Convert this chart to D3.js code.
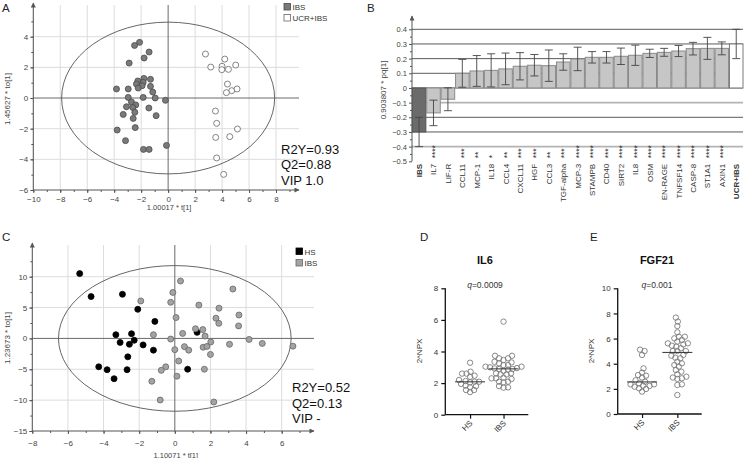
<!DOCTYPE html>
<html><head><meta charset="utf-8">
<script src="https://cdn.jsdelivr.net/npm/d3@7"></script>
<style>body{margin:0;background:#fff} svg{display:block;font-family:"Liberation Sans",Arial,sans-serif}</style>
</head><body><svg id="c" width="745" height="458"></svg>
<script>
// ---------- DATA ----------
// Panel A (OPLS-DA scores, IBS vs UCR+IBS): [t[1], to[1]]
const aIBS = [[-2.12,3.63],[-2.49,3.43],[-1.41,3.0],[-1.78,2.61],[-2.89,2.28],[-1.80,1.28],[-1.31,1.22],[-2.25,1.11],[-2.35,0.91],[-1.85,1.02],[-1.93,0.80],[-1.31,0.76],[-2.22,0.65],[-3.83,0.59],[-2.96,0.59],[-1.14,0.39],[-2.96,0.04],[-1.85,0.04],[-0.96,0.0],[-0.20,-0.15],[-2.72,-0.26],[-2.40,-0.45],[-3.09,-0.57],[-2.62,-0.62],[-1.43,-0.65],[-2.47,-0.93],[-3.33,-1.07],[-0.89,-1.15],[-2.59,-1.33],[-2.44,-1.93],[-3.78,-2.09],[-3.16,-2.78],[-1.83,-3.35],[-1.41,-3.35],[-0.12,-3.09]];
const aUCR = [[2.77,2.87],[3.16,2.02],[4.20,2.54],[4.0,2.07],[3.98,1.85],[4.47,1.87],[5.01,2.15],[4.40,0.91],[4.72,0.48],[4.32,0.35],[5.11,0.59],[3.51,-0.85],[3.60,-1.65],[5.14,-2.02],[3.53,-2.57],[4.57,-2.52],[3.60,-3.91],[4.12,-4.98]];
const aStats = ["R2Y=0.93","Q2=0.88","VIP 1.0"];
const aLegend = ["IBS","UCR+IBS"];

// Panel B (loadings)
const bCats = ["IBS","IL7","LIF-R","CCL11","MCP-1","IL18","CCL4","CXCL11","HGF","CCL3","TGF-alpha","MCP-3","STAMPB","CD40","SIRT2","IL8","OSM","EN-RAGE","TNFSF14","CASP-8","ST1A1","AXIN1","UCR+IBS"];
const bVals = [-0.30,-0.17,-0.077,0.10,0.116,0.12,0.13,0.148,0.155,0.152,0.177,0.198,0.209,0.209,0.216,0.223,0.236,0.243,0.252,0.268,0.27,0.27,0.30];
const bErr  = [0.10,0.087,0.078,0.095,0.105,0.113,0.108,0.093,0.073,0.107,0.056,0.08,0.039,0.039,0.056,0.069,0.028,0.027,0.038,0.043,0.075,0.044,0.10];
const bStars = ["","****","","***","**","*","**","***","***","**","***","****","****","***","****","****","****","****","****","****","****","****",""];
const bTicks = [0.4,0.3,0.2,0.1,0,-0.1,-0.2,-0.3,-0.4,-0.5];

// Panel C (OPLS-DA scores, HS vs IBS)
const cHS = [[-5.34,10.5],[-4.70,6.78],[-2.94,7.15],[-2.08,4.72],[-1.12,2.76],[-3.31,0.6],[-2.43,0.76],[-3.07,-0.65],[-2.28,-0.30],[-2.55,-0.95],[-1.78,-1.05],[-1.2,-1.9],[-2.64,-2.98],[-4.27,-4.6],[-3.80,-5.07],[-2.68,-5.07],[-3.41,-6.53],[0.72,-4.99],[1.25,0.98]];
const cIBS = [[0.32,9.3],[-0.11,7.45],[3.26,8.0],[-1.91,6.07],[-0.23,5.85],[1.35,5.4],[2.48,4.9],[0.07,3.38],[2.31,3.28],[3.6,3.79],[2.47,2.44],[3.58,2.03],[1.16,1.57],[1.57,1.43],[-1.20,0.6],[0.44,0.81],[1.70,0.38],[-0.23,-0.1],[2.02,-0.57],[4.17,-0.16],[4.91,-0.81],[3.07,-0.95],[6.63,-1.25],[0.54,-1.33],[1.59,-1.43],[1.80,-1.3],[0.0,-1.82],[0.78,-1.9],[2.0,-2.6],[0.22,-3.66],[-0.51,-4.6],[-0.76,-5.17],[1.66,-4.99],[0.12,-6.12],[-1.29,-6.94],[-0.82,-9.98],[2.19,-10.3]];
const cStats = ["R2Y=0.52","Q2=0.13","VIP -"];
const cLegend = ["HS","IBS"];

// Panel D (IL6, 2^NPX)
const dHS  = [3.29,2.6,2.72,2.6,2.47,2.4,2.09,2.13,2.09,2.05,1.84,1.73,1.81,1.56,1.56,1.43,2.2,1.95];
const dIBS = [5.89,3.73,3.73,3.57,3.57,3.35,3.46,3.31,3.25,3.14,3.14,3.04,3.04,2.93,2.89,2.89,2.78,2.62,2.62,2.55,2.55,2.3,2.3,2.34,2.26,2.09,2.09,2.05,1.81,1.73,1.71,2.95,3.0,2.85];
const dMed = [2.08,2.9];
// Panel E (FGF21, 2^NPX)
const eHS  = [5.01,4.7,5.12,3.63,3.29,3.1,3.05,2.9,2.68,2.57,2.44,2.36,2.36,2.25,2.23,2.17,2.04,1.99,1.78];
const eIBS = [7.67,7.35,7.0,6.5,6.15,6.15,6.02,5.89,5.76,5.62,5.62,5.54,5.44,5.36,5.23,5.01,5.01,5.01,4.7,4.64,4.48,4.43,4.16,4.03,3.9,3.77,3.5,3.37,3.16,2.97,2.84,2.9,2.79,2.36,2.31,1.51];
const eMed = [2.55,4.9];
const groups = ["HS","IBS"];

// ---------- DRAW ----------
const svg = d3.select("#c");
const defs = svg.append("defs");
defs.append("marker").attr("id","arr").attr("viewBox","0 0 10 10").attr("refX",9).attr("refY",5)
  .attr("markerWidth",7).attr("markerHeight",5).attr("orient","auto-start-reverse").attr("markerUnits","userSpaceOnUse")
  .append("path").attr("d","M0,0L10,5L0,10z").attr("fill","#555");

function styleAxis(g, size){
  g.selectAll(".domain").remove();
  g.selectAll("line").attr("stroke","#555");
  g.selectAll("text").attr("font-size",size||8).attr("fill","#444").attr("font-family","Liberation Sans, Arial, sans-serif");
}

function scorePlot(o){
  const g = svg.append("g");
  const x = o.x, y = o.y;
  o.xGrid.forEach(v=>{ if(v===0) return;
    g.append("line").attr("x1",x(v)).attr("x2",x(v)).attr("y1",o.top).attr("y2",y(o.yMin)).attr("stroke","#dcdcdc").attr("stroke-width",1); });
  o.yGrid.forEach(v=>{ if(v===0) return;
    g.append("line").attr("x1",x(o.xMin)).attr("x2",o.right).attr("y1",y(v)).attr("y2",y(v)).attr("stroke","#dcdcdc").attr("stroke-width",1); });
  g.append("line").attr("x1",x(0)).attr("x2",x(0)).attr("y1",o.top).attr("y2",y(o.yMin)).attr("stroke","#6a6a6a");
  g.append("line").attr("x1",x(o.xMin)).attr("x2",o.right).attr("y1",y(0)).attr("y2",y(0)).attr("stroke","#6a6a6a");
  g.append("ellipse").attr("cx",x(0)).attr("cy",y(0)).attr("rx",x(o.ell[0])-x(0)).attr("ry",y(0)-y(o.ell[1]))
    .attr("fill","none").attr("stroke","#555").attr("stroke-width",0.9);
  const xa = g.append("g").attr("transform",`translate(0,${y(o.yMin)})`)
    .call(d3.axisBottom(x).tickValues(o.xGrid).tickSize(3).tickPadding(o.xPad).tickFormat(d3.format("d")));
  styleAxis(xa);
  const xm = g.append("g").attr("transform",`translate(0,${y(o.yMin)})`)
    .call(d3.axisBottom(x).tickValues(o.xMinor).tickSize(2).tickFormat(""));
  styleAxis(xm);
  const ya = g.append("g").attr("transform",`translate(${x(o.xMin)},0)`)
    .call(d3.axisLeft(y).tickValues(o.yGrid.concat([o.yMin])).tickSize(3).tickPadding(2).tickFormat(d3.format("d")));
  styleAxis(ya);
  const ym = g.append("g").attr("transform",`translate(${x(o.xMin)},0)`)
    .call(d3.axisLeft(y).tickValues(o.yMinor).tickSize(2).tickFormat(""));
  styleAxis(ym);
  g.append("line").attr("x1",x(o.xMin)).attr("x2",o.right).attr("y1",y(o.yMin)).attr("y2",y(o.yMin)).attr("stroke","#555").attr("marker-end","url(#arr)");
  g.append("line").attr("x1",x(o.xMin)).attr("x2",x(o.xMin)).attr("y1",y(o.yMin)).attr("y2",o.top-2).attr("stroke","#555").attr("marker-end","url(#arr)");
  o.series.forEach(s=>{
    g.selectAll(null).data(s.data).join("circle").attr("cx",d=>x(d[0])).attr("cy",d=>y(d[1])).attr("r",3)
      .attr("fill",s.fill).attr("stroke",s.stroke).attr("stroke-width",0.8);
  });
  g.append("text").attr("x",x(0)+1).attr("y",o.xTitleY).attr("text-anchor","middle").attr("font-size",7.5).attr("fill","#444").text(o.xTitle);
  g.append("text").attr("transform",`translate(${o.yTitleX},${o.yTitleC}) rotate(-90)`).attr("text-anchor","middle").attr("font-size",8).attr("fill","#444").text(o.yTitle);
  o.series.forEach((s,i)=>{
    g.append("rect").attr("x",o.leg[0]).attr("y",o.leg[1]+i*o.leg[2]).attr("width",6.5).attr("height",6.5).attr("fill",s.fill).attr("stroke",s.legStroke||s.stroke).attr("stroke-width",0.8);
    g.append("text").attr("x",o.leg[0]+8.5).attr("y",o.leg[1]+i*o.leg[2]+6.5).attr("font-size",8).attr("fill","#333").text(s.name);
  });
  o.stats.forEach((t,i)=>{
    g.append("text").attr("x",o.statPos[0]).attr("y",o.statPos[1]+i*15.5).attr("font-size",13).attr("fill","#111").text(t);
  });
  svg.append("text").attr("x",o.lab[0]).attr("y",o.lab[1]).attr("font-size",11.5).attr("fill","#222").text(o.label);
}

// Panel A
scorePlot({
  x: d3.scaleLinear([-10,8],[33.3,276]), y: d3.scaleLinear([-6,4],[190,36.7]),
  xMin:-10, yMin:-6, top:5, right:299, xPad:3,
  xGrid:[-10,-8,-6,-4,-2,0,2,4,6,8], yGrid:[-4,-2,0,2,4],
  xMinor:d3.range(-10,10,1), yMinor:d3.range(-6,6,1),
  ell:[7.9,4.95],
  series:[{name:aLegend[0],data:aIBS,fill:"#7a7a7a",stroke:"#4a4a4a"},{name:aLegend[1],data:aUCR,fill:"#fff",stroke:"#666"}],
  xTitle:"1.00017 * t[1]", xTitleY:210, yTitle:"1.45627 * to[1]", yTitleX:10, yTitleC:99,
  leg:[284,3.5,11], stats:aStats, statPos:[281,153.5], label:"A", lab:[2,12]
});

// Panel C
scorePlot({
  x: d3.scaleLinear([-8,6],[32.3,281.7]), y: d3.scaleLinear([-15,10],[431,276.7]),
  xMin:-8, yMin:-15, top:245, right:314, xPad:6,
  xGrid:[-8,-6,-4,-2,0,2,4,6], yGrid:[-10,-5,0,5,10],
  xMinor:d3.range(-8,8,1), yMinor:d3.range(-15,15,2.5),
  ell:[6.53,11.8],
  series:[{name:cLegend[0],data:cHS,fill:"#000",stroke:"#000"},{name:cLegend[1],data:cIBS,fill:"#a3a3a3",stroke:"#666"}],
  xTitle:"1.10071 * t[1]", xTitleY:457.5, yTitle:"1.23673 * to[1]", yTitleX:10, yTitleC:338,
  leg:[296,248,11.5], stats:cStats, statPos:[292,392], label:"C", lab:[2,241]
});

// Panel B
(function(){
  const g = svg.append("g");
  const x = d3.scaleBand(bCats,[412.3,743]).paddingInner(0.06);
  const y = d3.scaleLinear([-0.5,0.4],[161.3,29.3]);
  bTicks.filter(v=>v>-0.5).forEach(v=>{
    const light = (Math.abs(v+0.1)<1e-9 || Math.abs(v+0.4)<1e-9);
    g.append("line").attr("x1",412).attr("x2",743).attr("y1",y(v)).attr("y2",y(v))
      .attr("stroke", light?"#b4b4b4":"#5a5a5a").attr("stroke-width", light?1.6:1);
  });
  const bw = x.bandwidth();
  bCats.forEach((c,i)=>{
    const v=bVals[i], x0=x(c);
    const fill = i===0?"#6b6b6b":(i===bCats.length-1?"#fff":"#c6c6c6");
    const st = i===0?"#555":(i===bCats.length-1?"#7a7a7a":"#8a8a8a");
    g.append("rect").attr("x",x0).attr("width",bw).attr("y",y(Math.max(0,v))).attr("height",Math.abs(y(v)-y(0)))
      .attr("fill",fill).attr("stroke",st).attr("stroke-width",1);
    const cx = x0+bw/2, e=bErr[i];
    g.append("line").attr("x1",cx).attr("x2",cx).attr("y1",y(v+e)).attr("y2",y(v-e)).attr("stroke","#444").attr("stroke-width",0.9);
    [v+e,v-e].forEach(w=>g.append("line").attr("x1",cx-4).attr("x2",cx+4).attr("y1",y(w)).attr("y2",y(w)).attr("stroke","#444").attr("stroke-width",0.9));
    if(bStars[i]) g.append("text").attr("transform",`translate(${cx+4.2},${y(-0.5)-3}) rotate(-90)`).attr("font-size",8.5).attr("fill","#333").text(bStars[i]);
    g.append("text").attr("transform",`translate(${cx+3},${y(-0.5)+2.5}) rotate(-90)`).attr("text-anchor","end")
      .attr("font-size",8).attr("fill","#333").attr("font-weight",(i===0||i===bCats.length-1)?"bold":"normal").text(c);
  });
  const ya = g.append("g").attr("transform","translate(412,0)")
    .call(d3.axisLeft(y).tickValues(bTicks).tickSize(3).tickPadding(2).tickFormat(d=>d===0?"0":d3.format(".1f")(d)));
  styleAxis(ya,7.5);
  const ym = g.append("g").attr("transform","translate(412,0)")
    .call(d3.axisLeft(y).tickValues(d3.range(-0.45,0.4,0.1)).tickSize(2).tickFormat(""));
  styleAxis(ym);
  g.append("line").attr("x1",412).attr("x2",412).attr("y1",y(-0.5)).attr("y2",16).attr("stroke","#555").attr("marker-end","url(#arr)");
  g.append("text").attr("transform","translate(386,90) rotate(-90)").attr("text-anchor","middle").attr("font-size",8).attr("fill","#444").text("0.903807 * pq[1]");
  svg.append("text").attr("x",367).attr("y",12).attr("font-size",11.5).attr("fill","#222").text("B");
})();

// Panels D, E
function swarm(vals, y, cx, minD){
  const placed=[], out=new Array(vals.length);
  const order = vals.map((v,i)=>i).sort((a,b)=>vals[a]-vals[b]);
  for(const i of order){
    const py=y(vals[i]);
    for(let k=0;k<400;k++){
      const off=(k%2?1:-1)*Math.ceil(k/2)*0.5;
      const px=cx+off;
      if(placed.every(p=>Math.hypot(p[0]-px,p[1]-py)>=minD)){ placed.push([px,py]); out[i]=[px,py]; break; }
    }
  }
  return out;
}
function dotPlot(o){
  const g = svg.append("g");
  const x = d3.scalePoint(groups,[o.x0,o.x1]).padding(o.pad);
  const y = d3.scaleLinear([0,o.yMax],[o.yb,288.3]);
  const ya = g.append("g").attr("transform",`translate(${o.x0},0)`)
    .call(d3.axisLeft(y).tickValues(d3.range(0,o.yMax+1,2)).tickSize(4).tickPadding(3));
  const xa = g.append("g").attr("transform",`translate(0,${o.yb})`)
    .call(d3.axisBottom(x).tickSize(4).tickFormat(""));
  [ya,xa].forEach(a=>{a.select(".domain").attr("stroke","#111").attr("stroke-width",1.3);
    a.selectAll("line").attr("stroke","#111").attr("stroke-width",1.2);
    a.selectAll("text").attr("font-size",8).attr("fill","#333").attr("font-family","Liberation Sans, Arial, sans-serif");});
  xa.select(".domain").attr("d",`M${o.x0},0H${o.x1}`);
  ya.select(".domain").attr("d",`M0,${o.yb}V288.3`);
  groups.forEach((gr,i)=>{
    g.append("text").attr("transform",`translate(${x(gr)+3},${o.yb+9}) rotate(-45)`).attr("text-anchor","end")
      .attr("font-size",8).attr("fill","#333").text(gr);
    const pts = swarm(o.vals[i], y, x(gr), 4.4);
    g.selectAll(null).data(pts).join("circle").attr("cx",d=>d[0]).attr("cy",d=>d[1]).attr("r",2.7)
      .attr("fill","none").attr("stroke","#7d7d7d").attr("stroke-width",0.9);
    g.append("line").attr("x1",x(gr)-15).attr("x2",x(gr)+15).attr("y1",y(o.med[i])).attr("y2",y(o.med[i])).attr("stroke","#333").attr("stroke-width",1);
  });
  g.append("text").attr("transform",`translate(${o.yl},351) rotate(-90)`).attr("text-anchor","middle").attr("font-size",8).attr("fill","#333").text("2^NPX");
  g.append("text").attr("x",o.tc).attr("y",264).attr("text-anchor","middle").attr("font-size",11).attr("font-weight","bold").attr("fill","#111").text(o.title);
  const q = g.append("text").attr("x",o.tc).attr("y",288).attr("text-anchor","middle").attr("font-size",8.5).attr("fill","#333");
  q.append("tspan").attr("font-style","italic").text("q");
  q.append("tspan").text(o.q);
  svg.append("text").attr("x",o.lab[0]).attr("y",o.lab[1]).attr("font-size",11.5).attr("fill","#222").text(o.label);
}
dotPlot({x0:445.3,x1:528.3,pad:0.74,yMax:8,yb:414.7,vals:[dHS,dIBS],med:dMed,title:"IL6",q:"=0.0009",tc:485,yl:422,label:"D",lab:[420,241]});
dotPlot({x0:617.7,x1:701.7,pad:0.69,yMax:10,yb:414,vals:[eHS,eIBS],med:eMed,title:"FGF21",q:"=0.001",tc:657,yl:594,label:"E",lab:[590,241]});
</script></body></html>
